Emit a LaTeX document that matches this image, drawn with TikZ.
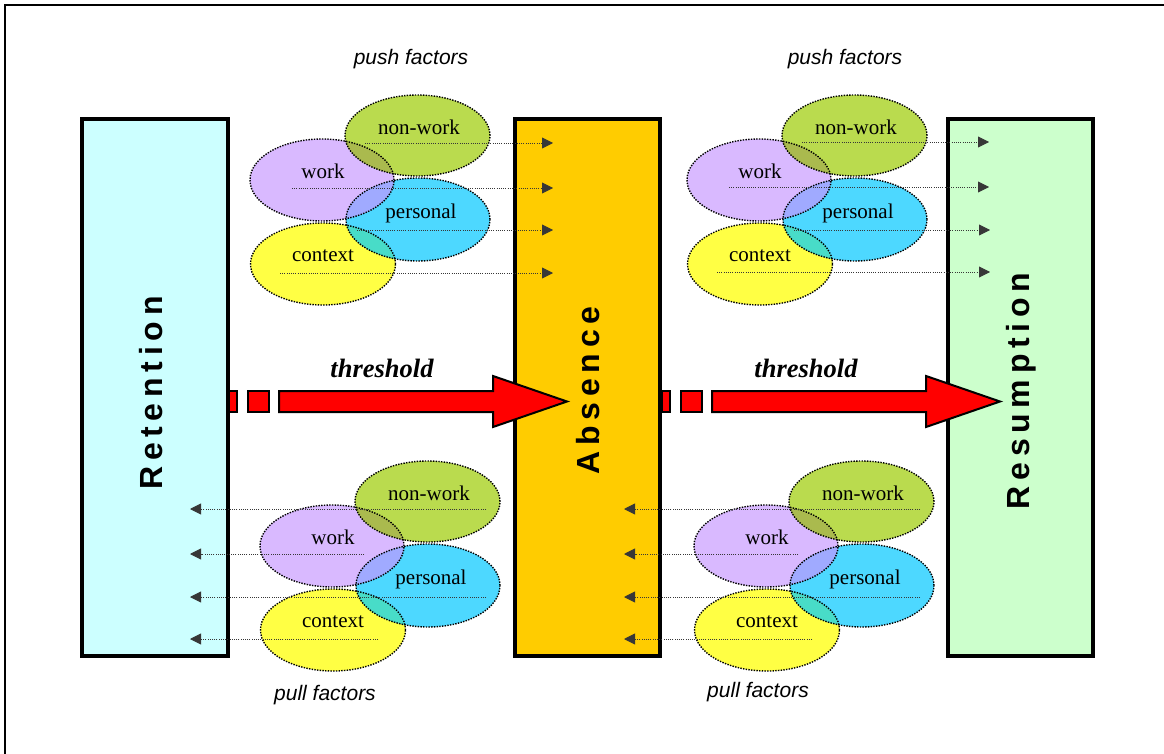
\documentclass[tikz,border=0pt]{standalone}
\usepackage{fontspec}
\setmainfont{Liberation Serif}
\newfontfamily\sansfont{Liberation Sans}
\newfontfamily\boxfont[LetterSpace=18]{Liberation Sans}
\usetikzlibrary{arrows.meta}
\definecolor{cret}{RGB}{204,255,255}
\definecolor{cabs}{RGB}{255,204,0}
\definecolor{cres}{RGB}{204,255,204}
\definecolor{cnonwork}{RGB}{186,219,78}
\definecolor{cwork}{RGB}{217,185,255}
\definecolor{cpersonal}{RGB}{77,216,255}
\definecolor{ccontext}{RGB}{255,255,68}
\definecolor{cwn}{RGB}{170,186,78}
\definecolor{cwp}{RGB}{160,170,255}
\definecolor{cpc}{RGB}{72,220,200}
\definecolor{arrgray}{RGB}{55,55,55}
\tikzset{
  bigbox/.style={draw=black, line width=4pt, minimum height=537pt, inner sep=0pt},
  boxlabel/.style={font=\boxfont\bfseries\fontsize{32}{38}\selectfont, rotate=90, inner sep=0pt},
  elabel/.style={font=\fontsize{21}{25}\selectfont, inner sep=0pt},
  factorlabel/.style={font=\sansfont\itshape\fontsize{21}{25}\selectfont, inner sep=0pt},
  thlabel/.style={font=\bfseries\itshape\fontsize{26.5}{30}\selectfont, inner sep=0pt},
  eline/.style={draw=black, line width=1.4pt, dash pattern=on 1.4pt off 1.3pt},
  farrow/.style={draw=arrgray, line width=0.9pt, dash pattern=on 1pt off 1.2pt, -{Triangle[length=11pt,width=11pt,fill=arrgray]}},
  thresh/.style={draw=black, line width=2pt, fill=red, line join=miter},
}
\newcommand\factorcluster{%
  \coordinate (nw) at (417.5,135.5);
  \coordinate (wk) at (322,180);
  \coordinate (ps) at (418,219.5);
  \coordinate (cx) at (323,264);
  \fill[cwork] (wk) ellipse [x radius=72pt,y radius=41pt];
  \fill[cnonwork] (nw) ellipse [x radius=72.5pt,y radius=40.5pt];
  \fill[ccontext] (cx) ellipse [x radius=72.5pt,y radius=41pt];
  \fill[cpersonal] (ps) ellipse [x radius=72pt,y radius=41.5pt];
  \begin{scope}
    \clip (wk) ellipse [x radius=72pt,y radius=41pt];
    \fill[cwn] (nw) ellipse [x radius=72.5pt,y radius=40.5pt];
    \fill[cwp] (ps) ellipse [x radius=72pt,y radius=41.5pt];
  \end{scope}
  \begin{scope}
    \clip (cx) ellipse [x radius=72.5pt,y radius=41pt];
    \fill[cpc] (ps) ellipse [x radius=72pt,y radius=41.5pt];
  \end{scope}
  \draw[eline] (wk) ellipse [x radius=72pt,y radius=41pt];
  \draw[eline] (nw) ellipse [x radius=72.5pt,y radius=40.5pt];
  \draw[eline] (cx) ellipse [x radius=72.5pt,y radius=41pt];
  \draw[eline] (ps) ellipse [x radius=72pt,y radius=41.5pt];
  \node[elabel] (nwl) at (419,127) {non-work};
  \node[elabel] (wkl) at (323,171.5) {work};
  \node[elabel] (psl) at (421,213.5) {personal};
  \node[elabel] (cxl) at (323,255.5) {context};
}
\begin{document}
\begin{tikzpicture}[x=1pt,y=-1pt]
\useasboundingbox (0,0) rectangle (1164,754);
% outer frame
\draw[line width=2pt] (5,760) -- (5,5) -- (1170,5);
% main boxes
\node[bigbox, fill=cret, minimum width=146pt] (ret) at (155,387.5) {};
\node[bigbox, fill=cabs, minimum width=145pt] (abs) at (587.5,387.5) {};
\node[bigbox, fill=cres, minimum width=145pt] (res) at (1020.5,387.5) {};
\node[boxlabel] (retl) at (151,393) {Retention};
\node[boxlabel] (absl) at (588,390.5) {Absence};
\node[boxlabel] (resl) at (1021,391) {Resumption};
% factor labels
\node[factorlabel] (push1) at (411,59) {push factors};
\node[factorlabel] (push2) at (845,59) {push factors};
\node[factorlabel] (pull1) at (325,695) {pull factors};
\node[factorlabel] (pull2) at (758,692) {pull factors};
% clusters
\begin{scope}[name prefix=tl-]
  \factorcluster
  \coordinate (s1) at (365,143); \coordinate (e1) at (553,143);
  \coordinate (s2) at (292,188); \coordinate (e2) at (553,188);
  \coordinate (s3) at (357,230); \coordinate (e3) at (553,230);
  \coordinate (s4) at (280,273); \coordinate (e4) at (553,273);
  \foreach \i in {1,...,4} \draw[farrow] (s\i) -- (e\i);
\end{scope}
\begin{scope}[shift={(437,0)}, name prefix=tr-]
  \factorcluster
  \coordinate (s1) at (365,142); \coordinate (e1) at (552,142);
  \coordinate (s2) at (292,187); \coordinate (e2) at (552,187);
  \coordinate (s3) at (357,230); \coordinate (e3) at (553,230);
  \coordinate (s4) at (280,272); \coordinate (e4) at (553,272);
  \foreach \i in {1,...,4} \draw[farrow] (s\i) -- (e\i);
\end{scope}
\begin{scope}[shift={(10,366)}, name prefix=bl-]
  \factorcluster
  \coordinate (s1) at (476,143); \coordinate (e1) at (180,143);
  \coordinate (s2) at (354,188); \coordinate (e2) at (180,188);
  \coordinate (s3) at (476,231); \coordinate (e3) at (180,231);
  \coordinate (s4) at (368,273); \coordinate (e4) at (180,273);
  \foreach \i in {1,...,4} \draw[farrow] (s\i) -- (e\i);
\end{scope}
\begin{scope}[shift={(444,366)}, name prefix=br-]
  \factorcluster
  \coordinate (s1) at (476,143); \coordinate (e1) at (180,143);
  \coordinate (s2) at (354,188); \coordinate (e2) at (180,188);
  \coordinate (s3) at (476,231); \coordinate (e3) at (180,231);
  \coordinate (s4) at (368,273); \coordinate (e4) at (180,273);
  \foreach \i in {1,...,4} \draw[farrow] (s\i) -- (e\i);
\end{scope}
% threshold arrows
\draw[thresh] (229,391) rectangle (237,412);
\draw[thresh] (248,391) rectangle (269,412);
\draw[thresh] (279,391) -- (493,391) -- (493,376) -- (567,401.5) -- (493,427) -- (493,412) -- (279,412) -- cycle;
\node[thlabel] (th1) at (382,368) {threshold};
\draw[thresh] (662,391) rectangle (670,412);
\draw[thresh] (681,391) rectangle (702,412);
\draw[thresh] (712,391) -- (926,391) -- (926,376) -- (1000,401.5) -- (926,427) -- (926,412) -- (712,412) -- cycle;
\node[thlabel] (th2) at (806,368) {threshold};
\end{tikzpicture}
\end{document}
